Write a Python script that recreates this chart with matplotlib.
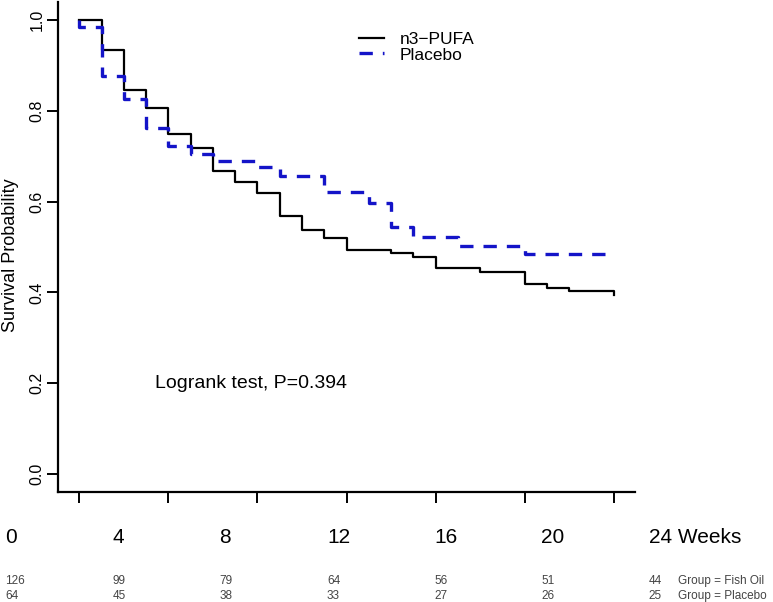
import matplotlib
matplotlib.use("Agg")
import matplotlib.pyplot as plt
from matplotlib.lines import Line2D

plt.rcParams['font.family'] = ['Liberation Sans', 'DejaVu Sans']

# Kaplan-Meier steps (weeks, survival)
pufa_weeks = [0, 1, 2, 3, 4, 5, 6, 7, 8, 9, 10, 11, 12, 14, 15, 16, 18, 20, 21, 22, 24]
pufa_surv = [1.0, 0.935, 0.847, 0.807, 0.748, 0.718, 0.667, 0.643, 0.619, 0.568,
             0.538, 0.520, 0.494, 0.486, 0.478, 0.453, 0.444, 0.419, 0.410, 0.402, 0.395]
placebo_weeks = [0, 0, 1, 2, 3, 4, 5, 6, 8, 9, 11, 13, 14, 15, 17, 20, 24]
placebo_surv = [1.0, 0.984, 0.877, 0.827, 0.763, 0.722, 0.706, 0.690, 0.676, 0.656,
                0.622, 0.598, 0.543, 0.522, 0.503, 0.485, 0.485]

week_labels = ["0", "4", "8", "12", "16", "20", "24 Weeks"]
risk_fish = ["126", "99", "79", "64", "56", "51", "44"]
risk_placebo = ["64", "45", "38", "33", "27", "26", "25"]
group_names = ["Group = Fish Oil", "Group = Placebo"]

W, H = 773, 602
fig = plt.figure(figsize=(W / 100, H / 100), dpi=100)

def fx(px):
    return px / W

def fy(py):
    return 1 - py / H

ax = fig.add_axes([fx(58), fy(492), fx(635) - fx(58), fy(2) - fy(492)])

ax.step(pufa_weeks, pufa_surv, where='post', color='black', lw=1.6)
ax.step(placebo_weeks, placebo_surv, where='post', color='#1414c8', lw=2.4,
        dashes=(4, 3))

ax.set_xlim(-0.96, 24.96)
ax.set_ylim(-0.04, 1.04)
ax.set_xticks(range(0, 25, 4))
ax.set_xticklabels([])
ax.set_yticks([0, 0.2, 0.4, 0.6, 0.8, 1.0])
ax.set_yticklabels(["0.0", "0.2", "0.4", "0.6", "0.8", "1.0"], rotation=90,
                   va='center', fontsize=11.5)
ax.tick_params(length=8, width=1.4, pad=1.5)
ax.spines['top'].set_visible(False)
ax.spines['right'].set_visible(False)
for s in ['left', 'bottom']:
    ax.spines[s].set_linewidth(1.6)
fig.text(fx(11), fy(255), "Survival Probability", fontsize=13, rotation=90,
         ha='center', va='center')

# legend drawn by hand (tight R-style spacing)
fig.add_artist(Line2D([fx(359), fx(384)], [fy(38), fy(38)], color='black', lw=1.6))
fig.add_artist(Line2D([fx(359), fx(384)], [fy(53), fy(53)], color='#1414c8', lw=2.4,
                      dashes=(4, 3)))
fig.text(fx(400), fy(44), "n3\u2212PUFA", fontsize=12.5, va='baseline')
fig.text(fx(400), fy(59.5), "Placebo", fontsize=12.5, va='baseline')

fig.text(fx(155), fy(388), "Logrank test, P=0.394", fontsize=14, va='baseline')

# week labels and numbers at risk
for i in range(7):
    x = fx(5 + 107.3 * i)
    fig.text(x, fy(543), week_labels[i], fontsize=15, va='baseline')
    fig.text(x, fy(584), risk_fish[i], fontsize=8.5, va='baseline', color='#444444')
    fig.text(x, fy(599), risk_placebo[i], fontsize=8.5, va='baseline', color='#444444')
fig.text(fx(678), fy(584), group_names[0], fontsize=8.5, va='baseline', color='#444444')
fig.text(fx(678), fy(599), group_names[1], fontsize=8.5, va='baseline', color='#444444')

fig.savefig("out.png", dpi=100)
